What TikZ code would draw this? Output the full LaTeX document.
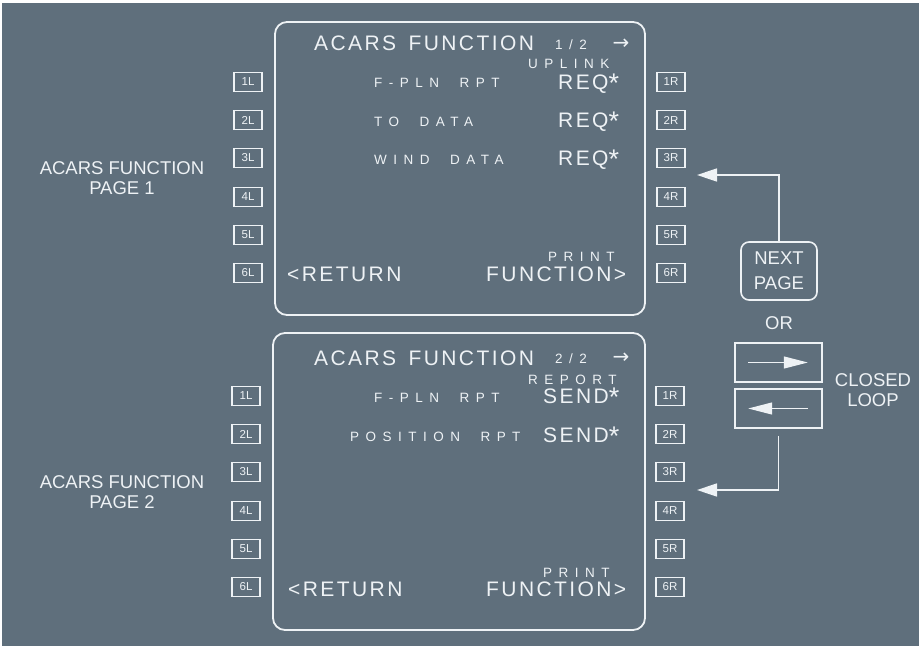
\documentclass[tikz,border=0pt]{standalone}
\usepackage{fontspec}
\setmainfont{Liberation Sans}
\newfontfamily\cdufont[LetterSpace=11.5,WordSpace=1.5]{Liberation Sans}
\newfontfamily\cduwide[LetterSpace=48,WordSpace=2]{Liberation Sans}
\newfontfamily\symfont{DejaVu Sans}
\usetikzlibrary{positioning,arrows.meta}
\definecolor{panel}{HTML}{5F6F7C}
\definecolor{ink}{HTML}{EEF2F5}
\newcommand{\reqstar}{\raisebox{-3.5pt}{\fontsize{27}{27}\selectfont*}}

\tikzset{
  screen/.style={draw=ink, line width=1.8pt, rounded corners=12pt},
  fkey/.style={draw=ink, line width=1.8pt, minimum width=28pt, minimum height=19pt, inner sep=0pt, text=ink, font=\fontsize{11.5}{11.5}\selectfont},
  bigtxt/.style={text=ink, inner sep=0pt, anchor=base west, font=\cdufont\fontsize{21}{21}\selectfont},
  smalltxt/.style={text=ink, inner sep=0pt, anchor=base west, font=\cduwide\fontsize{13.5}{13.5}\selectfont},
  sidetxt/.style={text=ink, inner sep=0pt, align=center, font=\fontsize{18.5}{20}\selectfont},
  nextarrow/.style={text=ink, inner sep=0pt, font=\symfont\fontsize{20}{20}\selectfont},
  conn/.style={draw=ink, line width=1.6pt, -{Triangle[length=20pt,width=13pt]}},
  inarrow/.style={draw=ink, line width=1.2pt, -{Triangle[length=24pt,width=12pt]}},
}

\begin{document}
\begin{tikzpicture}[x=1pt, y=-1pt]
\useasboundingbox (0,0) rectangle (924,648);
\fill[white] (0,0) rectangle (924,648);
\fill[panel] (2,3) rectangle (919,646);

% page 1
\draw[screen] (275,22) rectangle (645,315);
\foreach \n/\y in {1/82,2/120,3/158,4/197,5/235,6/273}{
  \node[fkey] (p1l\n) at (248,\y) {\n L};
  \node[fkey] (p1r\n) at (671,\y) {\n R};
}
\node[bigtxt] (t1) at (314,50) {ACARS FUNCTION};
\node[smalltxt] (pg1) at (555,49) {1/2};
\node[nextarrow] (nx1) at (621,44) {→};
\node[smalltxt] (up1) at (528,68) {UPLINK};
\node[smalltxt] (fpln1) at (374,87) {F-PLN RPT};
\node[smalltxt] (to1) at (374,126) {TO DATA};
\node[smalltxt] (wind1) at (374,164) {WIND DATA};
\node[bigtxt] (req1) at (558,89) {REQ\reqstar};
\node[bigtxt] (req2) at (558,127) {REQ\reqstar};
\node[bigtxt] (req3) at (558,165) {REQ\reqstar};
\node[smalltxt] (prt1) at (548,261) {PRINT};
\node[bigtxt] (ret1) at (287,281) {<RETURN};
\node[bigtxt] (fn1) at (486,281) {FUNCTION>};

% page 2
\draw[screen] (273,333) rectangle (645,630);
\foreach \n/\y in {1/396,2/434,3/472,4/511,5/549,6/587}{
  \node[fkey] (p2l\n) at (246,\y) {\n L};
  \node[fkey] (p2r\n) at (670,\y) {\n R};
}
\node[bigtxt] (t2) at (314,365) {ACARS FUNCTION};
\node[smalltxt] (pg2) at (555,363) {2/2};
\node[nextarrow] (nx2) at (621,358) {→};
\node[smalltxt] (rep2) at (528,384) {REPORT};
\node[smalltxt] (fpln2) at (374,402) {F-PLN RPT};
\node[smalltxt] (pos2) at (350,441) {POSITION RPT};
\node[bigtxt] (send1) at (543,403) {SEND\reqstar};
\node[bigtxt] (send2) at (543,442) {SEND\reqstar};
\node[smalltxt] (prt2) at (543,577) {PRINT};
\node[bigtxt] (ret2) at (288,596) {<RETURN};
\node[bigtxt] (fn2) at (486,596) {FUNCTION>};

% side labels
\node[sidetxt] (lab1) at (122,178) {ACARS FUNCTION\\PAGE 1};
\node[sidetxt] (lab2) at (122,492) {ACARS FUNCTION\\PAGE 2};

% page keys
\node[sidetxt, draw=ink, line width=1.6pt, rounded corners=8pt, minimum width=76pt, minimum height=58pt, font=\fontsize{18.5}{25}\selectfont] (next) at (779,271) {NEXT\\PAGE};
\node[sidetxt, below=16pt of next] (or) {OR};
\node[draw=ink, line width=1.6pt, minimum width=87pt, minimum height=39pt] (fwd) at (778.5,362.5) {};
\node[draw=ink, line width=1.6pt, minimum width=87pt, minimum height=39pt] (back) at (778.5,408.5) {};
\node[sidetxt] (loop) at (873,390) {CLOSED\\LOOP};
\draw[inarrow] ([xshift=14pt]fwd.west) -- ([xshift=-15pt]fwd.east);
\draw[inarrow] ([xshift=-15pt]back.east) -- ([xshift=14pt]back.west);

\coordinate (in1) at (697,175);
\coordinate (in2) at (697,490);
\draw[conn] (next.north) |- (in1);
\draw[conn, shorten <=7pt] (back.south) |- (in2);
\end{tikzpicture}
\end{document}
